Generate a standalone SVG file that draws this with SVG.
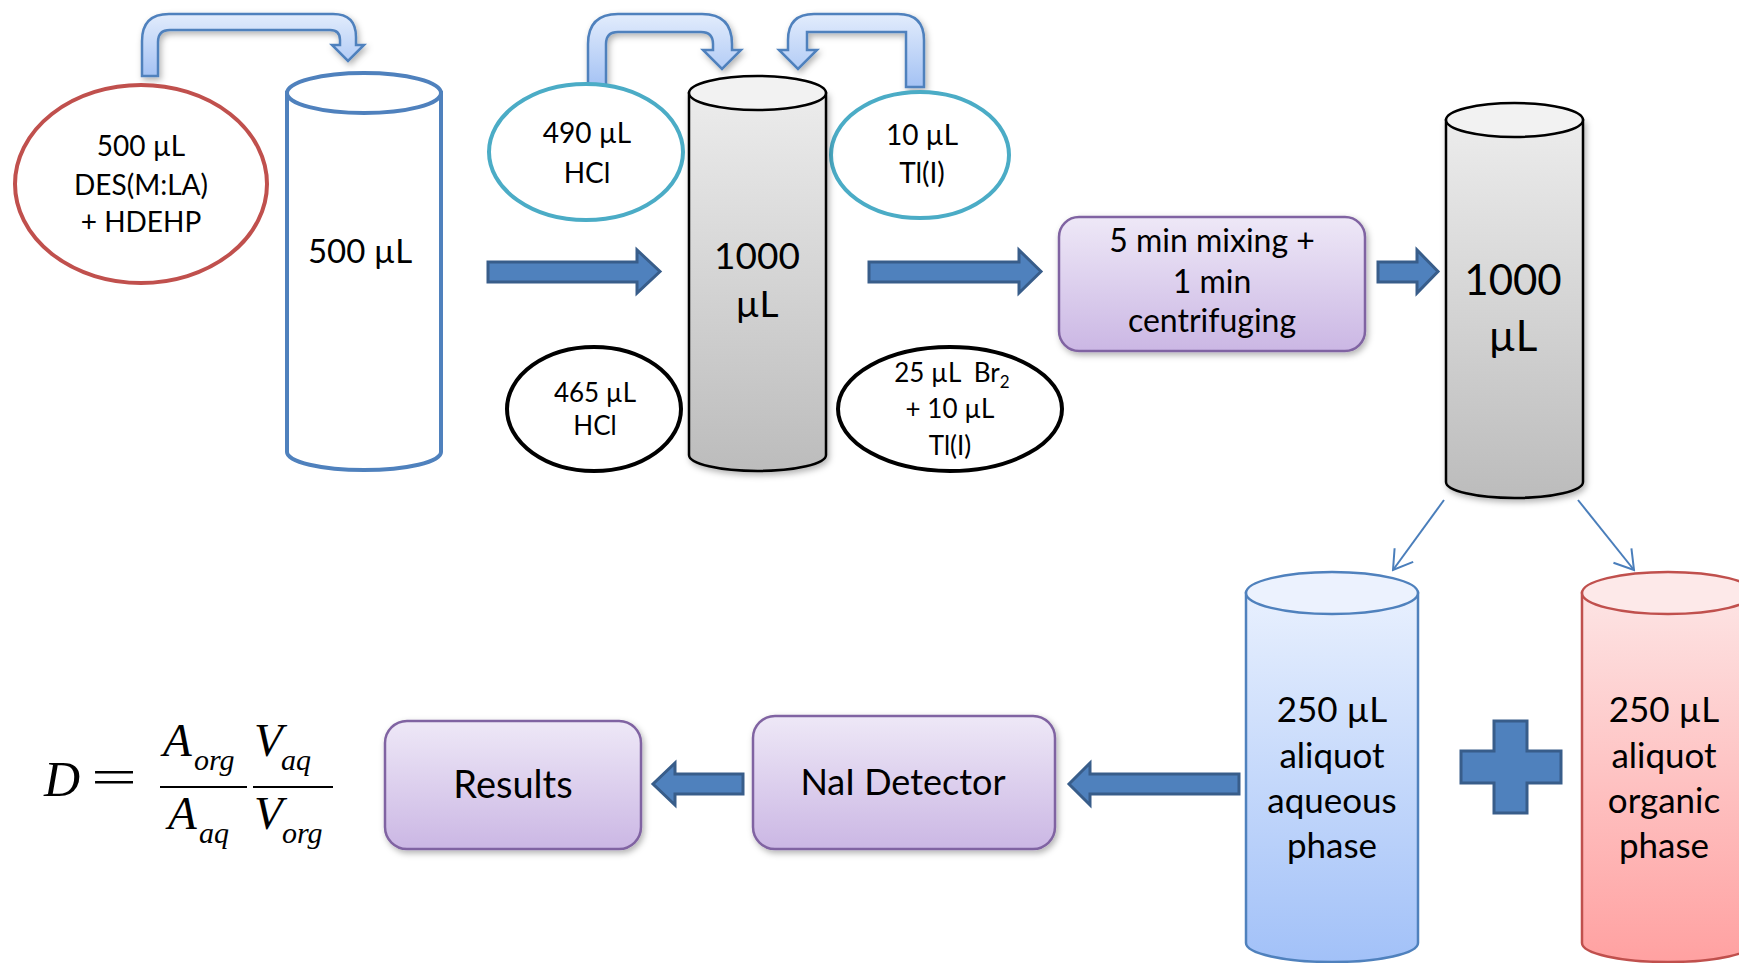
<svg xmlns="http://www.w3.org/2000/svg" width="1739" height="963" viewBox="0 0 1739 963">
<style>
text{font-family:Lato,"Open Sans","Liberation Sans",sans-serif;fill:#000;text-anchor:middle}
.t28{font-size:28px}.t26{font-size:26px}.t33{font-size:33px}.t35{font-size:35px}.t37{font-size:37px}.t42{font-size:42px}.t32{font-size:32px}.t36{font-size:36px}.t38{font-size:38px}
.blk{fill:#4f81bd;stroke:#385d8a;stroke-width:3}
.bent{fill:url(#gBent);stroke:#4f81bd;stroke-width:2.5}
.grey{fill:url(#gGrey);stroke:#000;stroke-width:2.5}
.greyTop{fill:#f2f2f2;stroke:#000;stroke-width:2.5}
.box{fill:url(#gBox);stroke:#8064a2;stroke-width:2.5}
.diag{stroke:#4a7ebb;stroke-width:2;fill:none}
.math{font-family:"Liberation Serif","Times New Roman",serif;font-style:italic;text-anchor:start}
</style>
<defs>
<linearGradient id="gBent" x1="0" y1="0" x2="0" y2="1"><stop offset="0" stop-color="#e2ecfc"/><stop offset="1" stop-color="#a4c2f4"/></linearGradient>
<linearGradient id="gGrey" x1="0" y1="0" x2="0" y2="1"><stop offset="0" stop-color="#ececec"/><stop offset="1" stop-color="#bcbcbc"/></linearGradient>
<linearGradient id="gBox" x1="0" y1="0" x2="0" y2="1"><stop offset="0" stop-color="#eee8f7"/><stop offset="1" stop-color="#cbb7e4"/></linearGradient>
<linearGradient id="gAq" x1="0" y1="0" x2="0" y2="1"><stop offset="0" stop-color="#e8f0fe"/><stop offset="1" stop-color="#a2c1f8"/></linearGradient>
<linearGradient id="gOr" x1="0" y1="0" x2="0" y2="1"><stop offset="0" stop-color="#fde4e4"/><stop offset="1" stop-color="#ffa1a1"/></linearGradient>
<filter id="sh" x="-20%" y="-20%" width="140%" height="140%"><feDropShadow dx="2" dy="3" stdDeviation="3" flood-color="#000" flood-opacity="0.3"/></filter>
<marker id="open" markerUnits="userSpaceOnUse" viewBox="-20 -13 22 26" refX="0" refY="0" markerWidth="22" markerHeight="26" orient="auto"><path d="M-18.5,-11.5 L0,0 L-18.5,11.5" fill="none" stroke="#4a7ebb" stroke-width="2"/></marker>
</defs>

<g id="connectors">
<path class="bent" filter="url(#sh)" d="M142,76 L142,41 Q142,14 169,14 L333,14 Q356,14 356,37 L356,45 L364,45 L348,61 L332,45 L340,45 L340,40 Q340,30 330,30 L170,30 Q158,30 158,42 L158,76 Z"/>
<path class="bent" filter="url(#sh)" d="M588,87 L588,44 Q588,14 618,14 L702,14 Q732,14 732,44 L732,50 L741,50 L722,69 L703,50 L713,50 L713,44 Q713,32 701,32 L618,32 Q606,32 606,44 L606,87 Z"/>
<path class="bent" filter="url(#sh)" d="M924,87 L924,40 Q924,14 898,14 L814,14 Q788,14 788,40 L788,50 L779,50 L798,69 L817,50 L807,50 L807,32 L906,32 L906,87 Z"/>
<path class="blk" d="M488,262 L637,262 L637,250 L660,271.5 L637,293 L637,282 L488,282 Z"/>
<path class="blk" d="M869,262 L1019,262 L1019,250 L1041,271.5 L1019,293 L1019,282 L869,282 Z"/>
<path class="blk" d="M1378,262 L1417,262 L1417,250 L1438,271.5 L1417,293 L1417,282 L1378,282 Z"/>
<path class="blk" d="M1239,774 L1090,774 L1090,763 L1069,784 L1090,805 L1090,794 L1239,794 Z"/>
<path class="blk" d="M743,774 L675,774 L675,763 L653,784 L675,805 L675,794 L743,794 Z"/>
<line class="diag" x1="1444" y1="500" x2="1393" y2="570" marker-end="url(#open)"/>
<line class="diag" x1="1578" y1="500" x2="1634" y2="570" marker-end="url(#open)"/>
</g>

<g id="ellipse-des">
<ellipse cx="141" cy="184" rx="126" ry="99" fill="#fff" stroke="#c0504d" stroke-width="4"/>
<text class="t28" x="141" y="156">500 µL</text>
<text class="t28" x="141" y="195">DES(M:LA)</text>
<text class="t28" x="141" y="232">+ HDEHP</text>
</g>

<g id="cyl-500">
<path d="M287,93 L287,452 A77,18 0 0 0 441,452 L441,93 Z" fill="#fff" stroke="#4f81bd" stroke-width="4"/>
<ellipse cx="364" cy="93" rx="77" ry="20" fill="#fff" stroke="#4f81bd" stroke-width="4"/>
<text class="t33" x="360" y="263">500 µL</text>
</g>

<g id="ellipse-490">
<ellipse cx="586" cy="152" rx="97" ry="68" fill="#fff" stroke="#4bacc6" stroke-width="4"/>
<text class="t28" x="587" y="143">490 µL</text>
<text class="t28" x="587" y="183">HCl</text>
</g>

<g id="ellipse-10">
<ellipse cx="920" cy="155" rx="89" ry="63" fill="#fff" stroke="#4bacc6" stroke-width="4"/>
<text class="t28" x="922" y="145">10 µL</text>
<text class="t28" x="922" y="183">Tl(I)</text>
</g>

<g id="cyl-1000a">
<path class="grey" filter="url(#sh)" d="M689,93 L689,455 A68.5,16 0 0 0 826,455 L826,93 Z"/>
<ellipse class="greyTop" cx="757.5" cy="93" rx="68.5" ry="17"/>
<text class="t37" x="757" y="269">1000</text>
<text class="t37" x="757" y="317">µL</text>
</g>

<g id="ellipse-465">
<ellipse cx="594" cy="409" rx="87" ry="62" fill="#fff" stroke="#000" stroke-width="4"/>
<text class="t26" x="595" y="402">465 µL</text>
<text class="t26" x="595" y="435">HCl</text>
</g>

<g id="ellipse-25">
<ellipse cx="950" cy="409" rx="112" ry="62" fill="#fff" stroke="#000" stroke-width="4"/>
<text class="t26" x="952" y="382">25 µL&#160; Br<tspan font-size="17" dy="6">2</tspan></text>
<text class="t26" x="950" y="418">+ 10 µL</text>
<text class="t26" x="950" y="455">Tl(I)</text>
</g>

<g id="box-mixing">
<rect class="box" filter="url(#sh)" x="1059" y="217" width="306" height="134" rx="20"/>
<text class="t32" x="1212" y="252">5 min mixing +</text>
<text class="t32" x="1212" y="293">1 min</text>
<text class="t32" x="1212" y="332">centrifuging</text>
</g>

<g id="cyl-1000b">
<path class="grey" filter="url(#sh)" d="M1446,120 L1446,482 A68.5,16 0 0 0 1583,482 L1583,120 Z"/>
<ellipse class="greyTop" cx="1514.5" cy="120" rx="68.5" ry="17"/>
<text class="t42" x="1513" y="295">1000</text>
<text class="t42" x="1513" y="351">µL</text>
</g>

<g id="cyl-aqueous">
<path d="M1246,593 L1246,943 A86,19 0 0 0 1418,943 L1418,593 Z" fill="url(#gAq)" stroke="#4f81bd" stroke-width="2.5"/>
<ellipse cx="1332" cy="593" rx="86" ry="21" fill="#ecf2fe" stroke="#4f81bd" stroke-width="2.5"/>
<text class="t35" x="1332" y="722">250 µL</text>
<text class="t35" x="1332" y="768">aliquot</text>
<text class="t35" x="1332" y="813">aqueous</text>
<text class="t35" x="1332" y="858">phase</text>
</g>

<g id="plus">
<path class="blk" d="M1494,721 L1527,721 L1527,751 L1561,751 L1561,783 L1527,783 L1527,813 L1494,813 L1494,783 L1461,783 L1461,751 L1494,751 Z"/>
</g>

<g id="cyl-organic">
<path d="M1582,593 L1582,943 A86,19 0 0 0 1754,943 L1754,593 Z" fill="url(#gOr)" stroke="#c0504d" stroke-width="2.5"/>
<ellipse cx="1668" cy="593" rx="86" ry="21" fill="#fde9e9" stroke="#c0504d" stroke-width="2.5"/>
<text class="t35" x="1664" y="722">250 µL</text>
<text class="t35" x="1664" y="768">aliquot</text>
<text class="t35" x="1664" y="813">organic</text>
<text class="t35" x="1664" y="858">phase</text>
</g>

<g id="box-nai">
<rect class="box" filter="url(#sh)" x="753" y="716" width="302" height="133" rx="22"/>
<text class="t36" x="903" y="795">NaI Detector</text>
</g>

<g id="box-results">
<rect class="box" filter="url(#sh)" x="385" y="721" width="256" height="128" rx="22"/>
<text class="t38" x="513" y="798">Results</text>
</g>

<g id="formula">
<text class="math" x="44" y="796" font-size="50">D</text>
<text x="114" y="794" font-size="50" style="font-family:'Liberation Serif',serif" textLength="46" lengthAdjust="spacingAndGlyphs">=</text>
<line x1="160" y1="787" x2="247" y2="787" stroke="#000" stroke-width="2.2"/>
<line x1="253" y1="787" x2="333" y2="787" stroke="#000" stroke-width="2.2"/>
<text class="math" x="163" y="756" font-size="47">A</text>
<text class="math" x="194" y="770" font-size="30">org</text>
<text class="math" x="168" y="829" font-size="47">A</text>
<text class="math" x="199" y="843" font-size="30">aq</text>
<text class="math" x="254" y="756" font-size="47">V</text>
<text class="math" x="281" y="770" font-size="30">aq</text>
<text class="math" x="254" y="829" font-size="47">V</text>
<text class="math" x="282" y="843" font-size="30">org</text>
</g>
</svg>
